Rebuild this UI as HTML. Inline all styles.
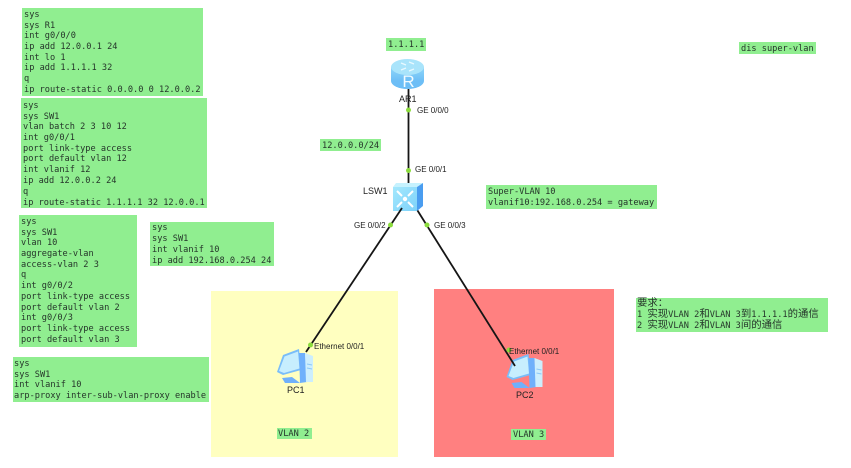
<!DOCTYPE html>
<html>
<head>
<meta charset="utf-8">
<style>
html,body{margin:0;padding:0;background:#fff;width:851px;height:468px;overflow:hidden}
svg{display:block;filter:blur(0.35px)}
.m{font-family:"DejaVu Sans Mono","Liberation Mono",monospace;font-size:8.63px;fill:#25352a}
.s{font-family:"Liberation Sans",sans-serif;font-size:8px;fill:#222}
.n{font-family:"Liberation Sans",sans-serif;font-size:9px;fill:#222}
.c{font-family:"Noto Sans CJK SC",sans-serif;font-size:10.4px;fill:#25352a}
.c tspan{font-family:"DejaVu Sans Mono","Liberation Mono",monospace;font-size:8.63px}
</style>
</head>
<body>
<svg width="851" height="468" viewBox="0 0 851 468" xmlns="http://www.w3.org/2000/svg">
<defs>
<linearGradient id="rt" x1="0" y1="0" x2="0" y2="1"><stop offset="0" stop-color="#8fd6f9"/><stop offset="1" stop-color="#6dbef6"/></linearGradient>
<linearGradient id="sw" x1="0" y1="0" x2="1" y2="1"><stop offset="0" stop-color="#a4e8fd"/><stop offset="1" stop-color="#7dd2fa"/></linearGradient>
<g id="pc">
<path d="M6 6 L22 0 L24 21 L6 26 L0 23 Z" fill="#79bdf9"/>
<path d="M7.500 7.500 L21 2.500 L22.500 19.500 L7 24 L2 22 Z" fill="#c7eefe"/>
<path d="M22 4 L28 4 L30 33 L23 34 Z" fill="#6fb0fb"/>
<path d="M28 4 L36 7 L36 33 L29 33 Z" fill="#cdeefd"/>
<path d="M30 15 L35 16 M30 19 L35 20" stroke="#8cc8f8" stroke-width="1"/>
<path d="M5 29 L15 28 L23 34 L8 34 Z" fill="#6fb0fb"/>
</g>
</defs>

<rect x="211" y="291" width="187" height="166" fill="#ffffc0"/>
<rect x="434" y="289" width="180" height="168" fill="#ff8080"/>

<g fill="#90ee90">
<rect x="22" y="8" width="181" height="88"/>
<rect x="21" y="98" width="186" height="110"/>
<rect x="19" y="215" width="118" height="132"/>
<rect x="150" y="222" width="124" height="44"/>
<rect x="13" y="357" width="196" height="45"/>
<rect x="386" y="38" width="40" height="13"/>
<rect x="320" y="139" width="61" height="12"/>
<rect x="486" y="185" width="171" height="24"/>
<rect x="636" y="298" width="192" height="34"/>
<rect x="739" y="42" width="77" height="12"/>
<rect x="277" y="428" width="35" height="11"/>
<rect x="511" y="429" width="35" height="11"/>
</g>

<g class="m">
<text x="24" y="17">sys</text>
<text x="24" y="28">sys R1</text>
<text x="24" y="38">int g0/0/0</text>
<text x="24" y="49">ip add 12.0.0.1 24</text>
<text x="24" y="60">int lo 1</text>
<text x="24" y="70">ip add 1.1.1.1 32</text>
<text x="24" y="81">q</text>
<text x="24" y="92">ip route-static 0.0.0.0 0 12.0.0.2</text>

<text x="23" y="108">sys</text>
<text x="23" y="119">sys SW1</text>
<text x="23" y="129">vlan batch 2 3 10 12</text>
<text x="23" y="140">int g0/0/1</text>
<text x="23" y="151">port link-type access</text>
<text x="23" y="161">port default vlan 12</text>
<text x="23" y="172">int vlanif 12</text>
<text x="23" y="183">ip add 12.0.0.2 24</text>
<text x="23" y="194">q</text>
<text x="23" y="205">ip route-static 1.1.1.1 32 12.0.0.1</text>

<text x="21" y="224">sys</text>
<text x="21" y="235">sys SW1</text>
<text x="21" y="245">vlan 10</text>
<text x="21" y="256">aggregate-vlan</text>
<text x="21" y="267">access-vlan 2 3</text>
<text x="21" y="277">q</text>
<text x="21" y="288">int g0/0/2</text>
<text x="21" y="299">port link-type access</text>
<text x="21" y="310">port default vlan 2</text>
<text x="21" y="320">int g0/0/3</text>
<text x="21" y="331">port link-type access</text>
<text x="21" y="342">port default vlan 3</text>

<text x="152" y="230">sys</text>
<text x="152" y="241">sys SW1</text>
<text x="152" y="252">int vlanif 10</text>
<text x="152" y="263">ip add 192.168.0.254 24</text>

<text x="14" y="366">sys</text>
<text x="14" y="377">sys SW1</text>
<text x="14" y="387">int vlanif 10</text>
<text x="14" y="398">arp-proxy inter-sub-vlan-proxy enable</text>

<text x="388" y="47">1.1.1.1</text>
<text x="322" y="148">12.0.0.0/24</text>
<text x="488" y="194">Super-VLAN 10</text>
<text x="488" y="205">vlanif10:192.168.0.254 = gateway</text>
<text x="741" y="51">dis super-vlan</text>
<text x="278" y="436">VLAN 2</text>
<text x="513" y="437">VLAN 3</text>
</g>

<text class="c" x="637" y="306">要求：</text>
<text class="c" x="637" y="317"><tspan>1 </tspan>实现<tspan>VLAN 2</tspan>和<tspan>VLAN 3</tspan>到<tspan>1.1.1.1</tspan>的通信</text>
<text class="c" x="637" y="328"><tspan>2 </tspan>实现<tspan>VLAN 2</tspan>和<tspan>VLAN 3</tspan>间的通信</text>

<!-- router -->
<g>
<ellipse cx="407.500" cy="81" rx="16.500" ry="8" fill="#6dbef6"/>
<rect x="391" y="67" width="33" height="14" fill="url(#rt)"/>
<ellipse cx="407.500" cy="67" rx="16.500" ry="8" fill="#a9e4fb"/>
<path d="M401 63 L406 65 M409 62 L414 64 M401 70 L406 68 M409 71 L414 69" stroke="#e8f9ff" stroke-width="1.300"/>
<text x="408.500" y="87" text-anchor="middle" font-family="Liberation Sans, sans-serif" font-size="17" fill="#f2fbff">R</text>
</g>

<!-- switch -->
<g>
<path d="M393 187 L396 183 L423 183 L417 187 Z" fill="#c6f2fe"/>
<path d="M417 187 L423 183 L423 206 L417 211 Z" fill="#4a9df0"/>
<rect x="393" y="187" width="24" height="24" fill="url(#sw)"/>
<path d="M397 191 L402 196 M413 191 L408 196 M397 207 L402 202 M413 207 L408 202" stroke="#fff" stroke-width="2"/>
<circle cx="405" cy="199" r="2.200" fill="#fff"/>
</g>

<use href="#pc" x="277" y="349"/>
<use href="#pc" x="506.500" y="354"/>

<g stroke="#151515" stroke-width="1.800" fill="none">
<line x1="408.500" y1="89" x2="408.500" y2="183"/>
<line x1="402" y1="208" x2="306" y2="352"/>
<line x1="417.500" y1="210.500" x2="515" y2="366"/>
</g>

<g fill="#8bdc3c">
<circle cx="408.500" cy="110" r="2.500"/>
<circle cx="408.500" cy="170.500" r="2.500"/>
<circle cx="390.500" cy="225" r="2.500"/>
<circle cx="427" cy="225" r="2.500"/>
<circle cx="310.500" cy="345" r="2.500"/>
<circle cx="509" cy="350" r="2.500"/>
</g>

<g class="s">
<text x="417" y="113">GE 0/0/0</text>
<text x="415" y="172">GE 0/0/1</text>
<text x="354" y="228">GE 0/0/2</text>
<text x="434" y="228">GE 0/0/3</text>
<text x="314" y="349">Ethernet 0/0/1</text>
<text x="509" y="354">Ethernet 0/0/1</text>
</g>
<g class="n">
<text x="399" y="102">AR1</text>
<text x="363" y="194">LSW1</text>
<text x="287" y="393">PC1</text>
<text x="516" y="398">PC2</text>
</g>
</svg>
</body>
</html>
